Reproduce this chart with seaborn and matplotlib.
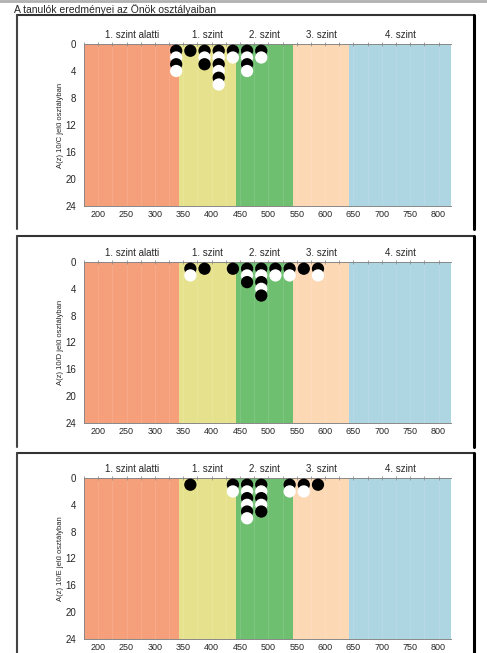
import numpy as np
import pandas as pd
import seaborn as sns
import matplotlib.pyplot as plt
from matplotlib.lines import Line2D

# score bins (25 wide) and number of students in each, per class
scores_c = [337.5, 362.5, 387.5, 412.5, 437.5, 462.5, 487.5]
counts_c = [4, 1, 3, 6, 2, 4, 2]
scores_d = [362.5, 387.5, 437.5, 462.5, 487.5, 512.5, 537.5, 562.5, 587.5]
counts_d = [2, 1, 1, 3, 5, 2, 2, 1, 2]
scores_e = [362.5, 437.5, 462.5, 487.5, 537.5, 562.5, 587.5]
counts_e = [1, 2, 6, 5, 2, 2, 1]

classes = ["10/C", "10/D", "10/E"]
level_names = ["1. szint alatti", "1. szint", "2. szint", "3. szint", "4. szint"]
level_edges = [175, 343, 443, 543, 643, 822]
level_colors = ["#f5a07a", "#e6e18c", "#6ec070", "#fcd8b4", "#add5e2"]
x_ticks = [200, 250, 300, 350, 400, 450, 500, 550, 600, 650, 700, 750, 800]
y_ticks = [0, 4, 8, 12, 16, 20, 24]

sns.set_style("white")
plt.rcParams['font.family'] = ['Liberation Sans', 'DejaVu Sans']

W, H = 487, 653
fig = plt.figure(figsize=(W / 100, H / 100), dpi=100)

fig.text(14 / W, 1 - 10 / H, "A tanulók eredményei az Önök osztályaiban",
         fontsize=7.5, va="center", ha="left")
fig.add_artist(Line2D([0, 1], [1 - 1 / H, 1 - 1 / H], color="#b0b0b0", lw=2,
                      transform=fig.transFigure))


def make_points(scores, counts):
    rows = []
    for s, n in zip(scores, counts):
        for k in range(1, n + 1):
            rows.append({"score": s, "n": k, "col": "b" if k % 2 else "w"})
    df = pd.DataFrame(rows)
    # lower dots drawn on top of the ones above
    return df.sort_values("n", kind="stable").reset_index(drop=True)


panels = [(scores_c, counts_c, 44, 206, 15, 229),
          (scores_d, counts_d, 262, 423, 236, 447),
          (scores_e, counts_e, 478, 639, 453, 655)]

for i, (scores, counts, top, bottom, box_top, box_bot) in enumerate(panels):
    ax = fig.add_axes([84 / W, 1 - bottom / H, (451 - 84) / W, (bottom - top) / H])

    for j in range(len(level_names)):
        ax.axvspan(level_edges[j], level_edges[j + 1], color=level_colors[j], lw=0, zorder=0)
        ax.text((level_edges[j] + level_edges[j + 1]) / 2, 1.058, level_names[j],
                transform=ax.get_xaxis_transform(), ha="center", va="center", fontsize=7)
    for xv in np.arange(200, 822, 25):
        ax.axvline(xv, color="white", alpha=0.13, lw=0.6, zorder=0.5)

    df = make_points(scores, counts)
    sns.scatterplot(data=df, x="score", y="n", hue="col",
                    palette={"b": "black", "w": "white"}, s=78,
                    edgecolor="none", linewidth=0, legend=False, ax=ax, zorder=3)

    ax.set_xlim(level_edges[0], level_edges[-1])
    ax.set_ylim(24, 0)
    ax.set_xticks(x_ticks)
    ax.set_yticks(y_ticks)
    ax.tick_params(axis="x", length=0, pad=3, labelsize=6.5)
    ax.tick_params(axis="y", length=4, width=0.6, color="#777777", pad=1.5, labelsize=7)
    ax.set_xlabel("")
    ax.set_ylabel(f"A(z) {classes[i]} jelű osztályban", fontsize=5.5, labelpad=1)
    for side in ["right"]:
        ax.spines[side].set_visible(False)
    for side in ["left", "top", "bottom"]:
        ax.spines[side].set_color("#888888")
        ax.spines[side].set_linewidth(0.7)

    top_ax = ax.secondary_xaxis("top")
    top_ax.set_xticks(np.arange(175, 823, 25))
    top_ax.set_xticklabels([])
    top_ax.tick_params(length=2.5, width=0.5, color="#777777", direction="inout")
    top_ax.spines["top"].set_visible(False)

    # panel frame
    y0, y1 = 1 - box_top / H, 1 - box_bot / H
    fig.add_artist(Line2D([17 / W, 474 / W], [y0, y0], color="#333333", lw=1.5,
                          transform=fig.transFigure))
    fig.add_artist(Line2D([17 / W, 17 / W], [y0, y1], color="#444444", lw=1.5,
                          transform=fig.transFigure))
    fig.add_artist(Line2D([474 / W, 474 / W], [y0, y1], color="black", lw=2.2,
                          transform=fig.transFigure))

fig.savefig("out.png", dpi=100)
